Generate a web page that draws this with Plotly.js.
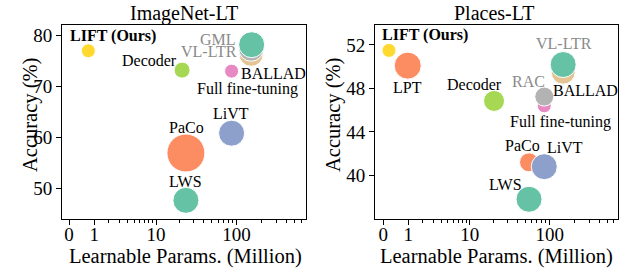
<!DOCTYPE html>
<html><head><meta charset="utf-8">
<script src="https://cdn.plot.ly/plotly-3.0.1.min.js"></script>
<style>html,body{margin:0;padding:0;background:#fff}#chart{width:625px;height:272px}</style>
</head><body><div id="chart"></div>
<script>
// ImageNet-LT (drawing order back to front)
const inMethods = ['BALLAD','VL-LTR','GML','Full fine-tuning','LiVT','PaCo','LWS','Decoder','LIFT (Ours)'];
const inParams  = [150, 150, 152, 87, 87, 24, 24, 21.5, 0.7];
const inAcc     = [76.3, 77.4, 78.2, 73.0, 60.8, 56.9, 47.6, 73.2, 77.0];
const inBubble  = [24, 25, 26, 14, 26, 38, 26, 16, 14];
// Places-LT
const plMethods = ['BALLAD','VL-LTR','Full fine-tuning','RAC','PaCo','LiVT','LWS','Decoder','LPT','LIFT (Ours)'];
const plParams  = [146, 146, 86, 86, 56, 86, 56, 20.6, 0.97, 0.17];
const plAcc     = [49.5, 50.2, 46.4, 47.25, 41.2, 40.8, 37.8, 46.85, 50.1, 51.5];
const plBubble  = [24, 26, 14, 19, 19, 26, 26, 21, 27, 14];
// axis ticks
const xTickVals = [0, 1, 10, 100];
const xTickText = ['0', '1', '10', '100'];
const xMinorVals = [2,3,4,5,6,7,8,9,20,30,40,50,60,70,80,90,200,300,400,500,600];
const inYTicks = [50, 60, 70, 80];
const plYTicks = [36, 40, 44, 48, 52];

// styles
const F = 'Liberation Serif';
const colorOf = {
  'LWS':'#66c2a5','PaCo':'#fc8d62','LiVT':'#8da0cb','Full fine-tuning':'#e78ac3',
  'Decoder':'#a6d854','LIFT (Ours)':'#ffd92f','BALLAD':'#e5c494'
};
const inColors = {'VL-LTR':'#b3b3b3','GML':'#66c2a5'};
const plColors = {'RAC':'#b3b3b3','VL-LTR':'#66c2a5','LPT':'#fc8d62'};
const grayLabels = ['GML','VL-LTR','RAC'];
// label offsets in pixels (dx, dy up)
const inOff = {'BALLAD':[22,-19],'VL-LTR':[-42,-3],'GML':[-34,5.5],'Full fine-tuning':[16,-18],
  'LiVT':[-1,19.5],'PaCo':[1,26],'LWS':[0,18.5],'Decoder':[-32.5,10],'LIFT (Ours)':[24.5,15]};
const plOff = {'BALLAD':[22,-18],'VL-LTR':[1,21],'Full fine-tuning':[16.5,-16],'RAC':[-16,15],
  'PaCo':[-7,17],'LiVT':[21,19.5],'LWS':[-24,14.5],'Decoder':[-20,16],'LPT':[0,-21.5],'LIFT (Ours)':[36.5,15]};

const tx = v => v + 1;

function trace(methods, params, acc, bubble, extra, xa, ya) {
  return {
    type:'scatter', mode:'markers', xaxis:xa, yaxis:ya,
    x: params.map(tx), y: acc, text: methods, hoverinfo:'text',
    marker:{size:bubble, sizemode:'diameter', opacity:1,
      color: methods.map(m => extra[m] || colorOf[m]),
      line:{color:'#ffffff', width:1}}
  };
}

function labels(methods, params, acc, off, xr, yr) {
  return methods.map((m,i) => ({
    xref:xr, yref:yr, x: Math.log10(tx(params[i])), y: acc[i],
    text: m === 'LIFT (Ours)' ? '<b>LIFT (Ours)</b>' : m,
    showarrow:false, xshift: off[m][0], yshift: off[m][1],
    xanchor:'center', yanchor:'middle',
    font:{family:F, size:16, color: grayLabels.includes(m) ? '#8a8a8a' : '#000'}
  }));
}

function xax(range, domain, anchor) {
  return {type:'log', range, domain, anchor, tickmode:'array',
    tickvals: xTickVals.map(tx), ticktext: xTickText,
    ticks:'outside', ticklen:5, tickwidth:1, tickcolor:'#000',
    ticklabelstandoff:-6,
    showline:true, linecolor:'#000', linewidth:1, mirror:true,
    showgrid:false, zeroline:false,
    tickfont:{family:F, size:19, color:'#000'},
    minor:{tickmode:'array', tickvals: xMinorVals.map(tx), ticks:'outside', ticklen:3, tickwidth:1, tickcolor:'#000', showgrid:false}};
}
function yax(range, domain, anchor, vals) {
  return {range, domain, anchor, tickmode:'array', tickvals: vals,
    ticks:'outside', ticklen:5, tickwidth:1, tickcolor:'#000',
    showline:true, linecolor:'#000', linewidth:1, mirror:true,
    showgrid:false, zeroline:false,
    tickfont:{family:F, size:19, color:'#000'}};
}

const yDom = [1 - 218.5/272, 1 - 25/272];
const layout = {
  width:625, height:272, autosize:false,
  margin:{l:0,r:0,t:0,b:0}, paper_bgcolor:'#fff', plot_bgcolor:'#fff',
  showlegend:false, font:{family:F},
  xaxis: xax([-0.085, 2.835], [62/625, 306/625], 'y'),
  yaxis: yax([44.03, 82.07], yDom, 'x', inYTicks),
  xaxis2: xax([-0.10, 2.828], [375/625, 618/625], 'y2'),
  yaxis2: yax([36.03, 53.84], yDom, 'x2', plYTicks),
  annotations: [
    {xref:'paper', yref:'paper', x:184/625, y:1-13/272, text:'ImageNet-LT', showarrow:false, xanchor:'center', yanchor:'middle', font:{family:F,size:20,color:'#000'}},
    {xref:'paper', yref:'paper', x:494/625, y:1-13/272, text:'Places-LT', showarrow:false, xanchor:'center', yanchor:'middle', font:{family:F,size:20,color:'#000'}},
    {xref:'paper', yref:'paper', x:185/625, y:1-256/272, text:'Learnable Params. (Million)', showarrow:false, xanchor:'center', yanchor:'middle', font:{family:F,size:20.5,color:'#000'}},
    {xref:'paper', yref:'paper', x:496/625, y:1-256/272, text:'Learnable Params. (Million)', showarrow:false, xanchor:'center', yanchor:'middle', font:{family:F,size:20.5,color:'#000'}},
    {xref:'paper', yref:'paper', x:30/625, y:1-115/272, text:'Accuracy (%)', textangle:-90, showarrow:false, xanchor:'center', yanchor:'middle', font:{family:F,size:20.5,color:'#000'}},
    {xref:'paper', yref:'paper', x:333/625, y:1-115/272, text:'Accuracy (%)', textangle:-90, showarrow:false, xanchor:'center', yanchor:'middle', font:{family:F,size:20.5,color:'#000'}}
  ].concat(labels(inMethods, inParams, inAcc, inOff, 'x', 'y'))
   .concat(labels(plMethods, plParams, plAcc, plOff, 'x2', 'y2'))
};

Plotly.newPlot('chart', [
  trace(inMethods, inParams, inAcc, inBubble, inColors, 'x', 'y'),
  trace(plMethods, plParams, plAcc, plBubble, plColors, 'x2', 'y2')
], layout, {staticPlot:true, displayModeBar:false});
</script></body></html>
